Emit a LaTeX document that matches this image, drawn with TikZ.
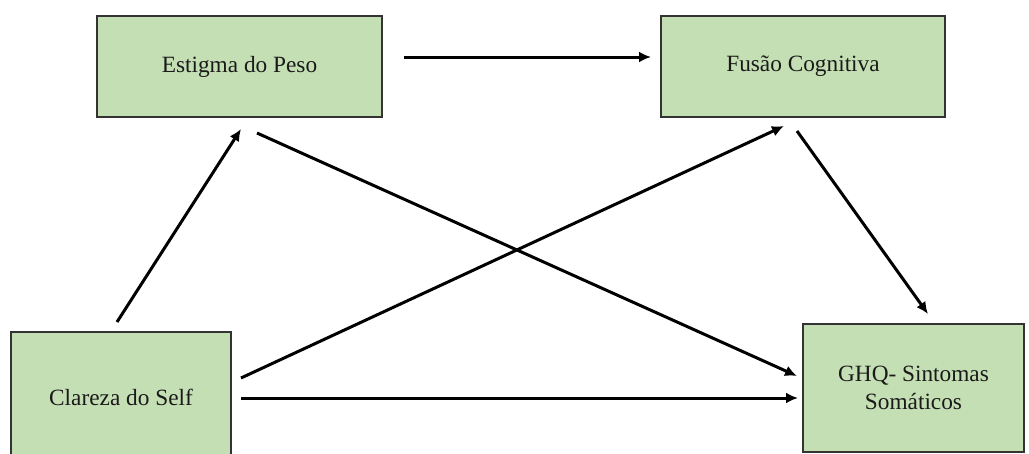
\documentclass[tikz,border=0pt]{standalone}
\usepackage{fontspec}
\setmainfont{Liberation Serif}
\usetikzlibrary{arrows.meta}
\definecolor{boxgreen}{HTML}{C5DFB4}
\definecolor{boxline}{HTML}{333333}
\definecolor{txt}{HTML}{1A1A1A}
\tikzset{
  varbox/.style={draw=boxline, line width=1.8pt, fill=boxgreen, rectangle,
    inner sep=0pt, align=center, text=txt,
    font=\fontsize{23.3}{28}\selectfont},
  path arrow/.style={line width=3pt, -{Latex[length=12pt,width=11pt]}}
}
\begin{document}
\begin{tikzpicture}[x=1pt, y=-1pt]
  \useasboundingbox (0,0) rectangle (1029,453);
  \clip (0,0) rectangle (1029,453);

  % variables
  \node[varbox, minimum width=285pt, minimum height=101pt] (es) at (239.5,66.5) {Estigma do Peso};
  \node[varbox, minimum width=284pt, minimum height=101pt] (fc) at (803,66.5) {Fusão Cognitiva};
  \node[varbox, minimum width=220pt, minimum height=130pt] (cs) at (121,397) {Clareza do Self};
  \node[varbox, minimum width=221pt, minimum height=128pt] (gh) at (913.5,388) {GHQ- Sintomas\\Somáticos};

  % arrow end points, kept clear of the boxes
  \coordinate (esR)  at (404,57);
  \coordinate (fcL)  at (651,57);
  \coordinate (esB1) at (241,129);
  \coordinate (esB2) at (257,133);
  \coordinate (fcB1) at (784,126);
  \coordinate (fcB2) at (797,131);
  \coordinate (csT)  at (117,322);
  \coordinate (csR1) at (241,378);
  \coordinate (csR2) at (241,398);
  \coordinate (ghT)  at (928,314);
  \coordinate (ghL1) at (797,376);
  \coordinate (ghL2) at (798,398);

  % paths
  \draw[path arrow] (esR) -- (fcL);
  \draw[path arrow] (csT) -- (esB1);
  \draw[path arrow] (esB2) -- (ghL1);
  \draw[path arrow] (csR1) -- (fcB1);
  \draw[path arrow] (fcB2) -- (ghT);
  \draw[path arrow] (csR2) -- (ghL2);
\end{tikzpicture}
\end{document}
